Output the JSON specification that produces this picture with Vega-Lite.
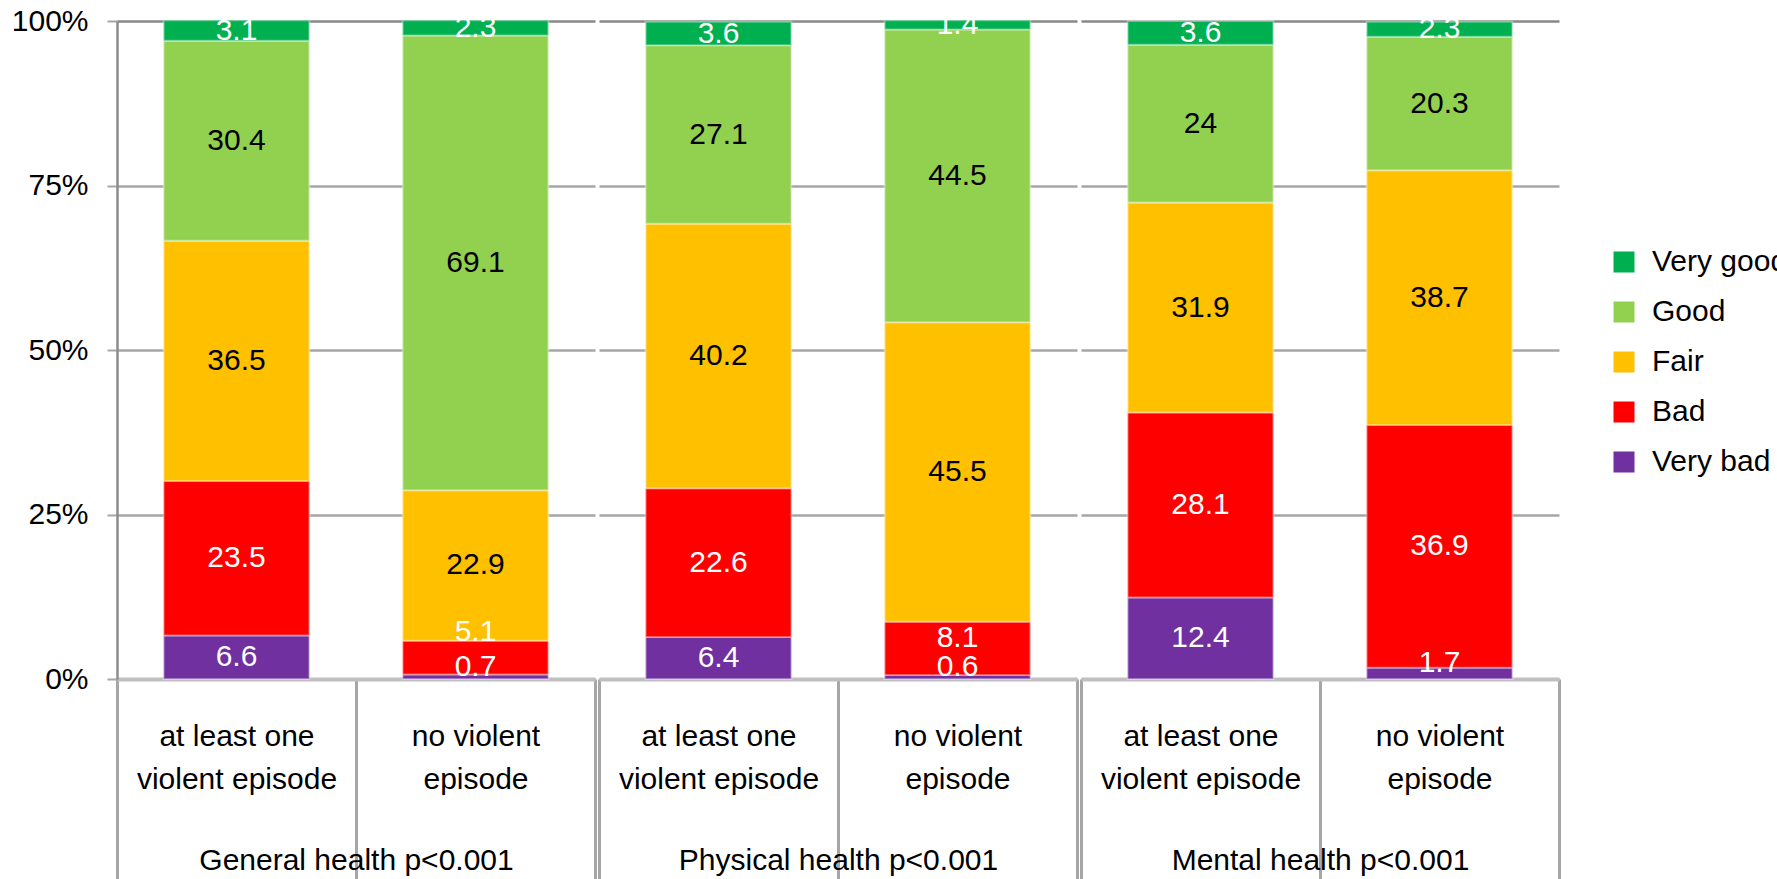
{
  "$schema": "https://vega.github.io/schema/vega-lite/v6.json",
  "padding": {"left": 11, "top": 6, "right": 0, "bottom": 0},
  "background": "#ffffff",
  "config": {
    "font": "Liberation Sans",
    "view": {"stroke": null},
    "axis": {"labelFont": "Liberation Sans", "titleFont": "Liberation Sans", "labelColor": "#000000", "titleColor": "#000000"},
    "axisX": {
      "titleFontSize": 30, "titleFontWeight": "normal", "titleBaseline": "alphabetic", "titleY": 190,
      "labelAngle": 0, "labelFontSize": 30, "labelBaseline": "top", "labelLineHeight": 43, "labelOverlap": false, "labelFlush": false, "labelBound": false, "labelLimit": 0,
      "labelPadding": -158, "tickSize": 200,
      "labelExpr": "datum.value == 'no violent episode' ? ['no violent', 'episode'] : datum.value == 'at least one violent episode' ? ['at least one', 'violent episode'] : ''",
      "tickDash": {"condition": {"test": "datum.value != 'no violent episode' || datum.index != 0", "value": [400, 0]}, "value": [124, 400]},
      "tickBand": "extent", "tickColor": "#a6a6a6", "tickWidth": 3, "domainColor": "#bfbfbf", "domainWidth": 4, "zindex": 1
    },
    "legend": {"labelFont": "Liberation Sans"}
  },
  "datasets": {
    "health": [
      {"group": "General health p<0.001", "episode": "at least one violent episode", "health": "Very bad", "score": 1, "value": 6.6},
      {"group": "General health p<0.001", "episode": "at least one violent episode", "health": "Bad", "score": 2, "value": 23.5},
      {"group": "General health p<0.001", "episode": "at least one violent episode", "health": "Fair", "score": 3, "value": 36.5},
      {"group": "General health p<0.001", "episode": "at least one violent episode", "health": "Good", "score": 4, "value": 30.4},
      {"group": "General health p<0.001", "episode": "at least one violent episode", "health": "Very good", "score": 5, "value": 3.1},
      {"group": "General health p<0.001", "episode": "no violent episode", "health": "Very bad", "score": 1, "value": 0.7},
      {"group": "General health p<0.001", "episode": "no violent episode", "health": "Bad", "score": 2, "value": 5.1},
      {"group": "General health p<0.001", "episode": "no violent episode", "health": "Fair", "score": 3, "value": 22.9},
      {"group": "General health p<0.001", "episode": "no violent episode", "health": "Good", "score": 4, "value": 69.1},
      {"group": "General health p<0.001", "episode": "no violent episode", "health": "Very good", "score": 5, "value": 2.3},
      {"group": "Physical health p<0.001", "episode": "at least one violent episode", "health": "Very bad", "score": 1, "value": 6.4},
      {"group": "Physical health p<0.001", "episode": "at least one violent episode", "health": "Bad", "score": 2, "value": 22.6},
      {"group": "Physical health p<0.001", "episode": "at least one violent episode", "health": "Fair", "score": 3, "value": 40.2},
      {"group": "Physical health p<0.001", "episode": "at least one violent episode", "health": "Good", "score": 4, "value": 27.1},
      {"group": "Physical health p<0.001", "episode": "at least one violent episode", "health": "Very good", "score": 5, "value": 3.6},
      {"group": "Physical health p<0.001", "episode": "no violent episode", "health": "Very bad", "score": 1, "value": 0.6},
      {"group": "Physical health p<0.001", "episode": "no violent episode", "health": "Bad", "score": 2, "value": 8.1},
      {"group": "Physical health p<0.001", "episode": "no violent episode", "health": "Fair", "score": 3, "value": 45.5},
      {"group": "Physical health p<0.001", "episode": "no violent episode", "health": "Good", "score": 4, "value": 44.5},
      {"group": "Physical health p<0.001", "episode": "no violent episode", "health": "Very good", "score": 5, "value": 1.4},
      {"group": "Mental health p<0.001", "episode": "at least one violent episode", "health": "Very bad", "score": 1, "value": 12.4},
      {"group": "Mental health p<0.001", "episode": "at least one violent episode", "health": "Bad", "score": 2, "value": 28.1},
      {"group": "Mental health p<0.001", "episode": "at least one violent episode", "health": "Fair", "score": 3, "value": 31.9},
      {"group": "Mental health p<0.001", "episode": "at least one violent episode", "health": "Good", "score": 4, "value": 24},
      {"group": "Mental health p<0.001", "episode": "at least one violent episode", "health": "Very good", "score": 5, "value": 3.6},
      {"group": "Mental health p<0.001", "episode": "no violent episode", "health": "Very bad", "score": 1, "value": 1.7},
      {"group": "Mental health p<0.001", "episode": "no violent episode", "health": "Bad", "score": 2, "value": 36.9},
      {"group": "Mental health p<0.001", "episode": "no violent episode", "health": "Fair", "score": 3, "value": 38.7},
      {"group": "Mental health p<0.001", "episode": "no violent episode", "health": "Good", "score": 4, "value": 20.3},
      {"group": "Mental health p<0.001", "episode": "no violent episode", "health": "Very good", "score": 5, "value": 2.3}
    ]
  },
  "data": {"name": "health"},
  "spacing": 0,
  "resolve": {"scale": {"color": "shared", "y": "shared"}, "legend": {"color": "shared"}},
  "hconcat": [
    {
      "width": 478, "height": 658,
      "transform": [{"filter": "datum.group == 'General health p<0.001'"}],
      "encoding": {
        "x": {"field": "episode", "type": "nominal", "sort": ["at least one violent episode", "no violent episode"],
          "scale": {"paddingInner": 0, "paddingOuter": 0}, "axis": {"title": "General health p<0.001"}}
      },
      "layer": [
        {"mark": {"type": "bar", "width": {"band": 0.61}, "stroke": "#ffffff", "strokeOpacity": 0.35, "strokeWidth": 2},
          "encoding": {
            "y": {"field": "value", "type": "quantitative", "stack": "zero",
              "scale": {"domain": [0, 100], "nice": false},
              "axis": {"title": null, "values": [0, 25, 50, 75, 100], "labelExpr": "datum.value + '%'", "labelFontSize": 30, "labelPadding": 19,
                "tickSize": 10, "tickColor": "#a6a6a6", "tickWidth": 2, "domainColor": "#8c8c8c", "domainWidth": 2.5,
                "gridColor": {"condition": {"test": "datum.value == 100", "value": "#888888"}, "value": "#a6a6a6"}, "gridWidth": 2.5}},
            "color": {"field": "health", "type": "nominal",
              "scale": {"domain": ["Very good", "Good", "Fair", "Bad", "Very bad"], "range": ["#00b050", "#92d050", "#ffc000", "#ff0000", "#7030a0"]},
              "legend": {"orient": "none", "legendX": 1492, "legendY": 226, "title": null, "symbolType": "square", "symbolSize": 441, "symbolStrokeWidth": 0,
                "labelFontSize": 30, "labelColor": "#000000", "rowPadding": 20, "labelOffset": 13}},
            "order": {"field": "score", "type": "quantitative"}
          }},
        {"mark": {"type": "text", "fontSize": 30, "baseline": "middle"},
          "encoding": {
            "y": {"field": "value", "type": "quantitative", "stack": "zero", "bandPosition": 0.5},
            "color": {"field": "health", "type": "nominal"},
            "order": {"field": "score", "type": "quantitative"},
            "text": {"condition": {"test": "!(datum.health == 'Very bad' && datum.value < 3) && !(datum.health == 'Bad' && datum.value < 9)", "field": "value", "type": "quantitative", "format": ".3~g"}, "value": ""},
            "fill": {"condition": {"test": "datum.health == 'Good' || datum.health == 'Fair'", "value": "#000000"}, "value": "#ffffff"}
          }},
        {"transform": [{"filter": "datum.health == 'Very bad' || datum.health == 'Bad'"}],
          "mark": {"type": "text", "fontSize": 30, "baseline": "middle", "dy": -10},
          "encoding": {
            "y": {"field": "value", "type": "quantitative", "stack": "zero", "bandPosition": 0.5},
            "color": {"field": "health", "type": "nominal"},
            "order": {"field": "score", "type": "quantitative"},
            "text": {"condition": {"test": "(datum.health == 'Very bad' && datum.value < 3) || (datum.health == 'Bad' && datum.value >= 6 && datum.value < 9)", "field": "value", "type": "quantitative", "format": ".3~g"}, "value": ""},
            "fill": {"value": "#ffffff"}
          }},
        {"transform": [{"filter": "datum.health == 'Very bad' || datum.health == 'Bad'"}],
          "mark": {"type": "text", "fontSize": 30, "baseline": "middle", "dy": -26},
          "encoding": {
            "y": {"field": "value", "type": "quantitative", "stack": "zero", "bandPosition": 0.5},
            "color": {"field": "health", "type": "nominal"},
            "order": {"field": "score", "type": "quantitative"},
            "text": {"condition": {"test": "datum.health == 'Bad' && datum.value < 6", "field": "value", "type": "quantitative", "format": ".3~g"}, "value": ""},
            "fill": {"value": "#ffffff"}
          }}
      ]
    },
    {
      "width": 478, "height": 658,
      "transform": [{"filter": "datum.group == 'Physical health p<0.001'"}],
      "encoding": {
        "x": {"field": "episode", "type": "nominal", "sort": ["at least one violent episode", "no violent episode"],
          "scale": {"paddingInner": 0, "paddingOuter": 0}, "axis": {"title": "Physical health p<0.001"}}
      },
      "layer": [
        {"mark": {"type": "bar", "width": {"band": 0.61}, "stroke": "#ffffff", "strokeOpacity": 0.35, "strokeWidth": 2},
          "encoding": {
            "y": {"field": "value", "type": "quantitative", "stack": "zero",
              "scale": {"domain": [0, 100], "nice": false},
              "axis": {"title": null, "values": [0, 25, 50, 75, 100], "labels": false, "ticks": false, "domain": false,
                "gridColor": {"condition": {"test": "datum.value == 100", "value": "#888888"}, "value": "#a6a6a6"}, "gridWidth": 2.5}},
            "color": {"field": "health", "type": "nominal"},
            "order": {"field": "score", "type": "quantitative"}
          }},
        {"mark": {"type": "text", "fontSize": 30, "baseline": "middle"},
          "encoding": {
            "y": {"field": "value", "type": "quantitative", "stack": "zero", "bandPosition": 0.5},
            "color": {"field": "health", "type": "nominal"},
            "order": {"field": "score", "type": "quantitative"},
            "text": {"condition": {"test": "!(datum.health == 'Very bad' && datum.value < 3) && !(datum.health == 'Bad' && datum.value < 9)", "field": "value", "type": "quantitative", "format": ".3~g"}, "value": ""},
            "fill": {"condition": {"test": "datum.health == 'Good' || datum.health == 'Fair'", "value": "#000000"}, "value": "#ffffff"}
          }},
        {"transform": [{"filter": "datum.health == 'Very bad' || datum.health == 'Bad'"}],
          "mark": {"type": "text", "fontSize": 30, "baseline": "middle", "dy": -10},
          "encoding": {
            "y": {"field": "value", "type": "quantitative", "stack": "zero", "bandPosition": 0.5},
            "color": {"field": "health", "type": "nominal"},
            "order": {"field": "score", "type": "quantitative"},
            "text": {"condition": {"test": "(datum.health == 'Very bad' && datum.value < 3) || (datum.health == 'Bad' && datum.value >= 6 && datum.value < 9)", "field": "value", "type": "quantitative", "format": ".3~g"}, "value": ""},
            "fill": {"value": "#ffffff"}
          }},
        {"transform": [{"filter": "datum.health == 'Very bad' || datum.health == 'Bad'"}],
          "mark": {"type": "text", "fontSize": 30, "baseline": "middle", "dy": -26},
          "encoding": {
            "y": {"field": "value", "type": "quantitative", "stack": "zero", "bandPosition": 0.5},
            "color": {"field": "health", "type": "nominal"},
            "order": {"field": "score", "type": "quantitative"},
            "text": {"condition": {"test": "datum.health == 'Bad' && datum.value < 6", "field": "value", "type": "quantitative", "format": ".3~g"}, "value": ""},
            "fill": {"value": "#ffffff"}
          }}
      ]
    },
    {
      "width": 478, "height": 658,
      "transform": [{"filter": "datum.group == 'Mental health p<0.001'"}],
      "encoding": {
        "x": {"field": "episode", "type": "nominal", "sort": ["at least one violent episode", "no violent episode"],
          "scale": {"paddingInner": 0, "paddingOuter": 0}, "axis": {"title": "Mental health p<0.001"}}
      },
      "layer": [
        {"mark": {"type": "bar", "width": {"band": 0.61}, "stroke": "#ffffff", "strokeOpacity": 0.35, "strokeWidth": 2},
          "encoding": {
            "y": {"field": "value", "type": "quantitative", "stack": "zero",
              "scale": {"domain": [0, 100], "nice": false},
              "axis": {"title": null, "values": [0, 25, 50, 75, 100], "labels": false, "ticks": false, "domain": false,
                "gridColor": {"condition": {"test": "datum.value == 100", "value": "#888888"}, "value": "#a6a6a6"}, "gridWidth": 2.5}},
            "color": {"field": "health", "type": "nominal"},
            "order": {"field": "score", "type": "quantitative"}
          }},
        {"mark": {"type": "text", "fontSize": 30, "baseline": "middle"},
          "encoding": {
            "y": {"field": "value", "type": "quantitative", "stack": "zero", "bandPosition": 0.5},
            "color": {"field": "health", "type": "nominal"},
            "order": {"field": "score", "type": "quantitative"},
            "text": {"condition": {"test": "!(datum.health == 'Very bad' && datum.value < 3) && !(datum.health == 'Bad' && datum.value < 9)", "field": "value", "type": "quantitative", "format": ".3~g"}, "value": ""},
            "fill": {"condition": {"test": "datum.health == 'Good' || datum.health == 'Fair'", "value": "#000000"}, "value": "#ffffff"}
          }},
        {"transform": [{"filter": "datum.health == 'Very bad' || datum.health == 'Bad'"}],
          "mark": {"type": "text", "fontSize": 30, "baseline": "middle", "dy": -10},
          "encoding": {
            "y": {"field": "value", "type": "quantitative", "stack": "zero", "bandPosition": 0.5},
            "color": {"field": "health", "type": "nominal"},
            "order": {"field": "score", "type": "quantitative"},
            "text": {"condition": {"test": "(datum.health == 'Very bad' && datum.value < 3) || (datum.health == 'Bad' && datum.value >= 6 && datum.value < 9)", "field": "value", "type": "quantitative", "format": ".3~g"}, "value": ""},
            "fill": {"value": "#ffffff"}
          }},
        {"transform": [{"filter": "datum.health == 'Very bad' || datum.health == 'Bad'"}],
          "mark": {"type": "text", "fontSize": 30, "baseline": "middle", "dy": -26},
          "encoding": {
            "y": {"field": "value", "type": "quantitative", "stack": "zero", "bandPosition": 0.5},
            "color": {"field": "health", "type": "nominal"},
            "order": {"field": "score", "type": "quantitative"},
            "text": {"condition": {"test": "datum.health == 'Bad' && datum.value < 6", "field": "value", "type": "quantitative", "format": ".3~g"}, "value": ""},
            "fill": {"value": "#ffffff"}
          }}
      ]
    }
  ]
}
